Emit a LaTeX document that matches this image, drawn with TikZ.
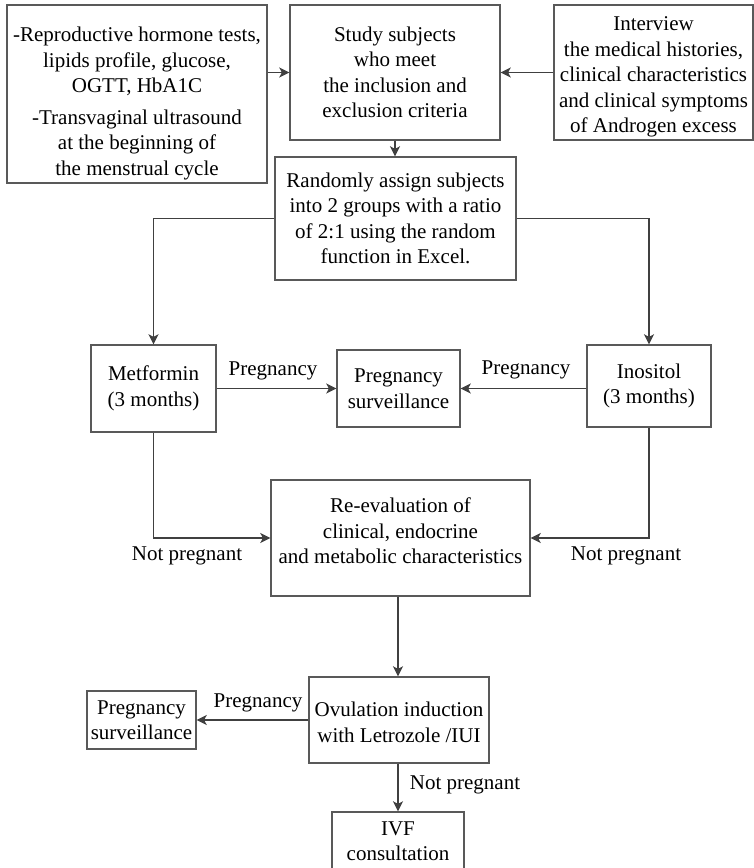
\documentclass[tikz,border=0pt]{standalone}
\usepackage{fontspec}
\setmainfont{Liberation Serif}
\usetikzlibrary{arrows.meta}

\begin{document}
\begin{tikzpicture}[x=1pt, y=-1pt,
    box/.style={draw=black!65, line width=1.4pt, inner sep=0pt, align=center,
      font=\fontsize{21}{25.5}\selectfont},
    lbl/.style={inner sep=0pt, font=\fontsize{21}{25.5}\selectfont},
    flow/.style={draw=black!75, line width=1.5pt, -{Stealth[length=10pt,width=10pt,inset=2.5pt]}}]
  \useasboundingbox (0,0) rectangle (754,868);

  \node (tests) [box, minimum width=260pt, minimum height=178pt] at (137,94)
    {\rule{0pt}{34pt}-Reproductive hormone tests,\\ lipids profile, glucose,\\ OGTT, HbA1C\\[6pt]
     -Transvaginal ultrasound\\ at the beginning of\\ the menstrual cycle};
  \node (subjects) [box, minimum width=210pt, minimum height=135pt] at (395,72.5)
    {Study subjects\\ who meet\\ the inclusion and\\ exclusion criteria};
  \node (interview) [box, minimum width=199pt, minimum height=135pt] at (653.5,72.5)
    {\rule{0pt}{23pt}Interview\\ the medical histories,\\ clinical characteristics\\ and clinical symptoms\\ of Androgen excess};
  \node (random) [box, minimum width=241pt, minimum height=123pt] at (395.5,218.5)
    {Randomly assign subjects\\ into 2 groups with a ratio\\ of 2:1 using the random\\ function in Excel.};
  \node (metformin) [box, minimum width=125pt, minimum height=87pt] at (153.5,388.5)
    {Metformin\\ (3 months)};
  \node (survA) [box, minimum width=123pt, minimum height=77pt] at (398.5,388.5)
    {Pregnancy\\ surveillance};
  \node (inositol) [box, minimum width=124pt, minimum height=82pt] at (649,386)
    {Inositol\\ (3 months)};
  \node (reeval) [box, minimum width=259pt, minimum height=116pt] at (400.5,538)
    {Re-evaluation of\\ clinical, endocrine\\ and metabolic characteristics\rule[-14pt]{0pt}{1pt}};
  \node (survB) [box, minimum width=109pt, minimum height=58pt] at (141.5,720)
    {Pregnancy\\ surveillance};
  \node (ovulation) [box, minimum width=180pt, minimum height=86pt] at (399,720)
    {\rule{0pt}{19pt}Ovulation induction\\ with Letrozole /IUI};
  \node (ivf) [box, minimum width=132pt, minimum height=58pt] at (398,841)
    {IVF\\ consultation};

  \node (pregA) [lbl] at (273,371) {Pregnancy};
  \node (pregB) [lbl] at (526,370) {Pregnancy};
  \node (notA) [lbl] at (187,556) {Not pregnant};
  \node (notB) [lbl] at (626,556) {Not pregnant};
  \node (pregC) [lbl] at (258,703) {Pregnancy};
  \node (notC) [lbl] at (465,785) {Not pregnant};

  \draw [flow] (tests.east |- subjects.west) -- (subjects.west);
  \draw [flow] (interview.west) -- (subjects.east);
  \draw [flow] (subjects.south) -- (random.north -| subjects.south);
  \draw [flow] (random.west) -| (metformin.north);
  \draw [flow] (random.east) -| (inositol.north);
  \draw [flow] (metformin.east) -- (survA.west);
  \draw [flow] (inositol.west |- survA.east) -- (survA.east);
  \draw [flow] (metformin.south) |- (reeval.west);
  \draw [flow] (inositol.south) |- (reeval.east);
  \draw [flow] (reeval.south -| ivf.north) -- (ovulation.north -| ivf.north);
  \draw [flow] (ovulation.west) -- (survB.east);
  \draw [flow] (ovulation.south -| ivf.north) -- (ivf.north);
\end{tikzpicture}
\end{document}
